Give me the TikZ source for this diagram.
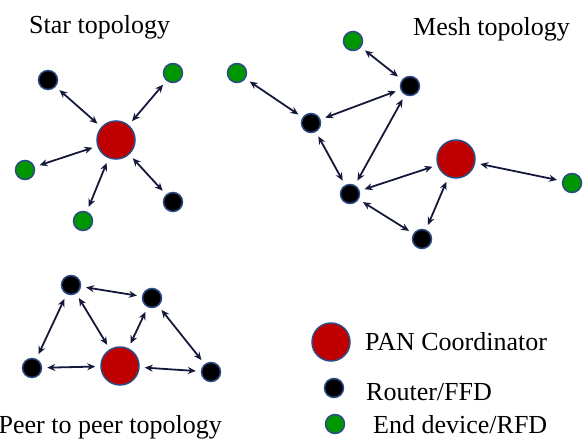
\documentclass[tikz,border=0pt]{standalone}
\usepackage{fontspec}
\setmainfont{Liberation Serif}
\newfontfamily\labelfont{Liberation Serif}
\usetikzlibrary{arrows.meta,positioning}
\definecolor{pancol}{RGB}{192,0,0}
\definecolor{rfdcol}{RGB}{0,150,0}
\definecolor{rimcol}{RGB}{45,75,135}
\definecolor{linkcol}{RGB}{20,25,60}

\begin{document}
\begin{tikzpicture}[x=1pt,y=-1pt]
\tikzstyle{pan}=[circle, fill=pancol, draw=rimcol, line width=1.5pt, minimum size=38pt, inner sep=0pt]
\tikzstyle{ffd}=[circle, fill=black, draw=rimcol, line width=1.5pt, minimum size=19pt, inner sep=0pt]
\tikzstyle{rfd}=[circle, fill=rfdcol, draw=rimcol, line width=1.5pt, minimum size=19pt, inner sep=0pt]
\tikzstyle{link}=[{Stealth[length=8pt,width=7pt]}-{Stealth[length=8pt,width=7pt]}, draw=linkcol, line width=1.8pt, shorten <=5pt, shorten >=5pt]
\tikzstyle{lbl}=[font=\labelfont\fontsize{26}{30}\selectfont, inner sep=0pt]
\useasboundingbox (0,0) rectangle (585,439);

% star
\node[lbl, anchor=base west] (startitle) at (29,33) {Star topology};
\node[pan] (s0) at (116,140) {};
\node[ffd] (s1) at (48,80) {};
\node[rfd] (s2) at (173,73) {};
\node[rfd] (s3) at (25,170) {};
\node[rfd] (s4) at (83,221) {};
\node[ffd] (s5) at (173,202) {};
\foreach \n in {s1,s2,s3,s4,s5}
  \draw[link] (\n) -- (s0); %

% mesh
\node[lbl, anchor=base west] (meshtitle) at (413,35) {Mesh topology};
\node[rfd] (m1) at (353,41) {};
\node[rfd] (m2) at (237,73) {};
\node[ffd] (m3) at (410,86) {};
\node[ffd] (m4) at (311,123) {};
\node[pan] (m0) at (456,159) {};
\node[rfd] (m5) at (572,183) {};
\node[ffd] (m6) at (350,194) {};
\node[ffd] (m7) at (422,239) {};
\draw[link] (m1) -- (m3); %
\draw[link] (m2) -- (m4); %
\draw[link] (m4) -- (m3); %
\draw[link] (m4) -- (m6); %
\draw[link] (m3) -- (m6); %
\draw[link] (m6) -- (m0); %
\draw[link] (m0) -- (m5); %
\draw[link] (m6) -- (m7); %
\draw[link] (m7) -- (m0); %

% peer to peer
\node[lbl, anchor=base east] (p2ptitle) at (222,433) {Peer to peer topology};
\node[ffd] (p1) at (71,285) {};
\node[ffd] (p2) at (152,298) {};
\node[ffd] (p3) at (32,368) {};
\node[pan] (p0) at (120,366) {};
\node[ffd] (p4) at (211,372) {};
\draw[link] (p1) -- (p2); %
\draw[link] (p1) -- (p3); %
\draw[link] (p1) -- (p0); %
\draw[link] (p2) -- (p0); %
\draw[link] (p2) -- (p4); %
\draw[link] (p3) -- (p0); %
\draw[link] (p0) -- (p4); %

% legend
\node[pan] (k0) at (331,342) {};
\node[ffd] (k1) at (334,388) {};
\node[rfd] (k2) at (335,424) {};
\node[lbl, anchor=base west] (k0txt) at (365,350) {PAN Coordinator};
\node[lbl, anchor=base west] (k1txt) at (366,400) {Router/FFD};
\node[lbl, anchor=base west] (k2txt) at (373,433) {End device/RFD};
\end{tikzpicture}
\end{document}
